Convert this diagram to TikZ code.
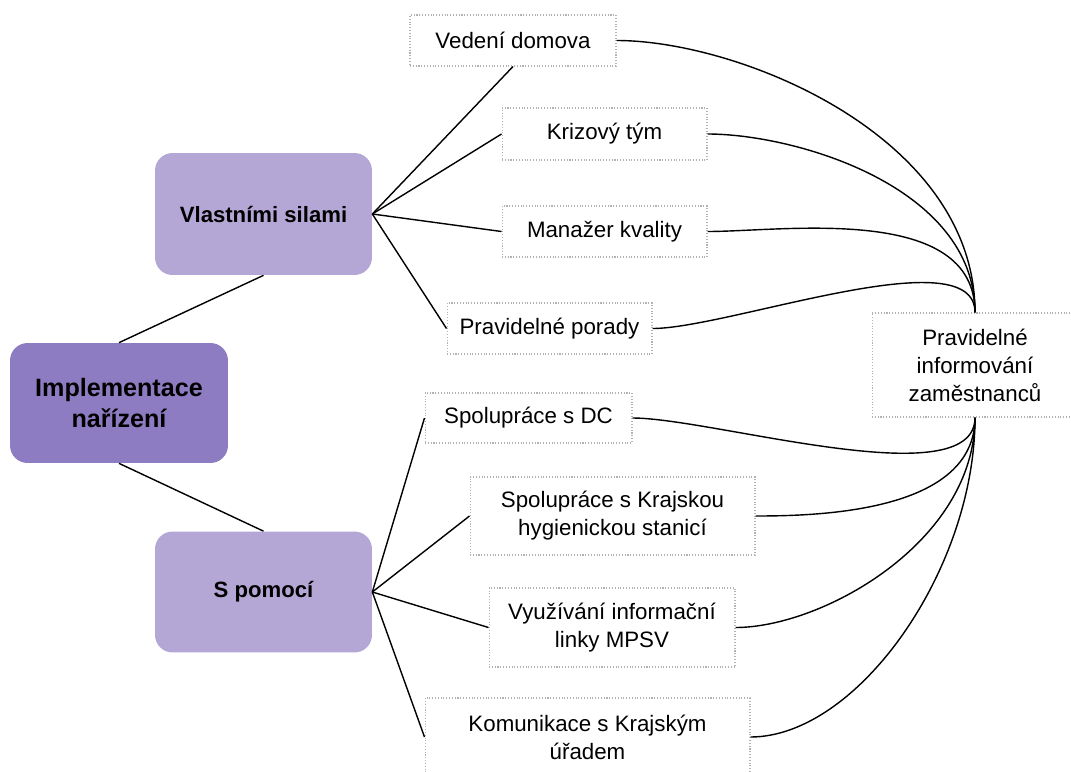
\documentclass[tikz,border=0pt]{standalone}
\usepackage{fontspec}
\setmainfont{Liberation Sans}
\usepackage{xcolor}
\definecolor{purpledark}{HTML}{8E7CC3}
\definecolor{purplelight}{HTML}{B4A7D6}
\usepackage{tikz}
\usetikzlibrary{positioning}
\tikzset{
  rootbox/.style={rounded corners=10pt, fill=purpledark, inner sep=0pt, align=center,
    font=\fontsize{14.3}{18.2}\selectfont\bfseries},
  groupbox/.style={rounded corners=10pt, fill=purplelight, inner sep=0pt, align=center,
    font=\fontsize{12.6}{16}\selectfont\bfseries},
  itembox/.style={draw=gray!60, densely dotted, line width=0.6pt, fill=white, inner sep=0pt,
    align=center, font=\fontsize{12.7}{15.9}\selectfont},
  link/.style={line width=0.8pt, black},
  arcto/.style={out looseness=0.7, in looseness=1.0}
}

\begin{document}
\begin{tikzpicture}[x=0.02cm,y=0.02cm]

\useasboundingbox[fill=white] (0,0) rectangle (1071,-771);

% main boxes
\node[rootbox, minimum width=4.36cm, minimum height=2.4cm] (root) at (119,-403) {Implementace\\nařízení};
\node[groupbox, minimum width=4.34cm, minimum height=2.44cm] (vlastni) at (263.5,-214) {Vlastními silami};
\node[groupbox, minimum width=4.34cm, minimum height=2.42cm] (pomoci) at (263.5,-592) {S pomocí};

% items
\node[itembox, minimum width=4.12cm, minimum height=1.02cm] (vedeni) at (513,-40.5) {Vedení domova};
\node[itembox, minimum width=4.1cm, minimum height=1.04cm] (krizovy) at (604.5,-134) {Krizový tým};
\node[itembox, minimum width=4.1cm, minimum height=1.02cm] (manazer) at (604.5,-231.5) {Manažer kvality};
\node[itembox, minimum width=4.1cm, minimum height=1.02cm] (porady) at (549.5,-328.5) {Pravidelné porady};

\node[itembox, minimum width=4.14cm, minimum height=1.0cm] (dc) at (528.5,-418) {Spolupráce s DC};
\node[itembox, minimum width=5.7cm, minimum height=1.56cm] (khs) at (612.5,-516) {Spolupráce s Krajskou\\hygienickou stanicí};
\node[itembox, minimum width=4.92cm, minimum height=1.58cm] (mpsv) at (612,-627.5) {Využívání informační\\linky MPSV};
\node[itembox, minimum width=6.5cm, minimum height=1.56cm] (kraj) at (587.5,-737) {Komunikace s Krajským\\úřadem};

\node[itembox, minimum width=4.12cm, minimum height=2.08cm] (info) at (975,-365) {Pravidelné\\informování\\zaměstnanců};

% tree
\draw[link] (root.north) -- (vlastni.south);
\draw[link] (root.south) -- (pomoci.north);

\draw[link] (vlastni.east) -- (vedeni.south);
\draw[link] (vlastni.east) -- (krizovy.west);
\draw[link] (vlastni.east) -- (manazer.west);
\draw[link] (vlastni.east) -- (porady.west);

\draw[link] (pomoci.east) -- (dc.west);
\draw[link] (pomoci.east) -- (khs.west);
\draw[link] (pomoci.east) -- (mpsv.west);
\draw[link] (pomoci.east) -- (kraj.west);

% curves to info
\draw[link] (vedeni.east) to[out=0,in=90,arcto] (info.north);
\draw[link] (krizovy.east) to[out=0,in=90,arcto] (info.north);
\draw[link] (manazer.east) to[out=0,in=90,arcto] (info.north);
\draw[link] (porady.east) to[out=0,in=90,looseness=0.6] (info.north);

\draw[link] (dc.east) to[out=0,in=-90,looseness=0.6] (info.south);
\draw[link] (khs.east) to[out=0,in=-90,arcto] (info.south);
\draw[link] (mpsv.east) to[out=0,in=-90,arcto] (info.south);
\draw[link] (kraj.east) to[out=0,in=-90,arcto] (info.south);

\end{tikzpicture}
\end{document}
